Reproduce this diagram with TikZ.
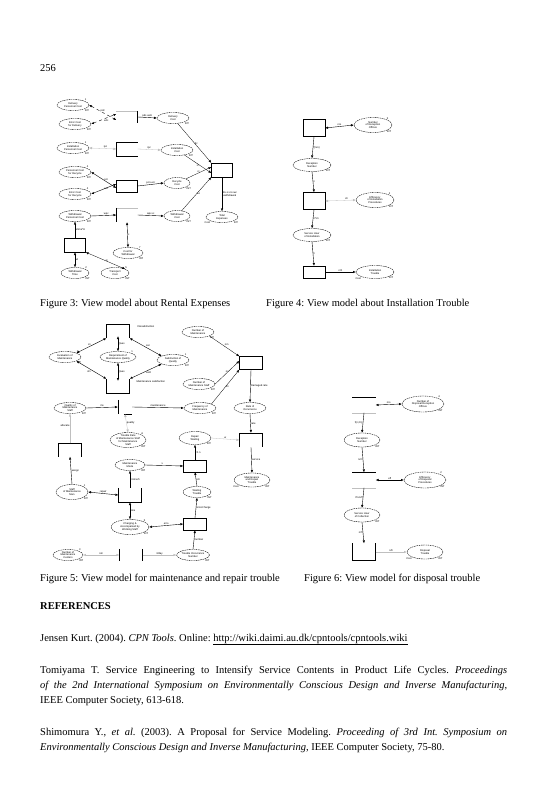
\documentclass[tikz,border=0pt]{standalone}
\usepackage{fontspec}
\setmainfont{Liberation Serif}
\setsansfont{Liberation Sans}
\usetikzlibrary{shapes.geometric,arrows.meta}
\frenchspacing
\newcommand\dfont{\fontsize{2.6}{2.9}\selectfont\sffamily}
\newcommand\bodyfont{\fontsize{10.5}{12}\selectfont}
\newcommand\fullline[1]{\makebox[467pt][s]{#1}}
\begin{document}
\begin{tikzpicture}[x=1pt,y=-1pt,
  >={Latex[length=2.8pt,width=2.4pt]},
  place/.style={ellipse,draw,line width=0.35pt,dash pattern=on 1.6pt off 0.7pt,minimum width=32pt,minimum height=11pt,inner sep=0pt,align=center,font=\dfont},
  bigplace/.style={place,minimum width=38pt,minimum height=15pt},
  trans/.style={rectangle,draw,line width=0.45pt,minimum width=21pt,minimum height=14pt,inner sep=0pt},
  ghost/.style={rectangle,draw=none,minimum width=21pt,minimum height=14pt,inner sep=0pt},
  arc/.style={->,line width=0.4pt},
  darc/.style={<->,line width=0.4pt},
  farc/.style={<->,line width=0.3pt,draw=black!25},
  lab/.style={font=\dfont,inner sep=0.3pt},
  typ/.style={font=\dfont,inner sep=0.2pt,anchor=north west},
  tok/.style={font=\dfont,inner sep=0.2pt,anchor=south west},
  body/.style={font=\bodyfont,anchor=base west,inner sep=0pt},
  captext/.style={font=\bodyfont,anchor=base west,inner sep=0pt}]
\useasboundingbox[fill=white] (0,0) rectangle (546,800);

% page number
\node[body] (pagenum) at (40,71) {256};

% ================= Figure 3 =================
\node[place] (a1) at (73,105) {Delivery\\Personnel Cost};
\node[place] (a2) at (75,124) {Error Cost\\for Delivery};
\node[place] (a3) at (73,148) {Installation\\Personnel Cost};
\node[place] (a4) at (75,172) {Personnel Cost\\for Recycle};
\node[place] (a5) at (75,194) {Error Cost\\for Recycle};
\node[place] (a6) at (75,216) {Withdrawal\\Personnel Cost};
\node[ghost,minimum height=12pt] (at1) at (127,117) {};
\draw[black!25,line width=0.4pt] (at1.north west) -- (at1.north east);
\draw[line width=0.45pt] (at1.north east) -- (at1.south east);
\node[ghost] (at2) at (127,149) {};
\draw[line width=0.45pt] (at2.north east) -- (at2.north west) -- (at2.south west) -- (at2.south east);
\node[trans,minimum height=12pt] (at3) at (127,186) {};
\node[ghost] (at4) at (127,215) {};
\draw[black!25,line width=0.4pt] (at4.north west) -- (at4.north east);
\draw[line width=0.45pt] (at4.north west) -- (at4.south west);
\node[place] (b1) at (173,118) {Delivery\\Cost};
\node[place] (b2) at (177,150) {Installation\\Cost};
\node[place,minimum width=26pt] (b3) at (177,183) {Recycle\\Cost};
\node[place,minimum width=26pt] (b4) at (177,216) {Withdrawal\\Cost};
\node[trans] (aT) at (222,170) {};
\node[place] (b5) at (222,217) {Total\\Expenses};
\node[trans] (at5) at (75,245) {};
\node[place,minimum width=28pt] (c1) at (75,273) {Withdrawal\\Time};
\node[place,minimum width=28pt] (c2) at (115,273) {Transport\\Cost};
\node[place,minimum width=30pt] (c3) at (128,253) {Cost for\\Withdrawal};
% tokens / types
\foreach \n/\t in {a1/1,a3/1,a4/4,a5/4} {\node[tok] at (\n.north east) {\t};}
\foreach \n in {a1,a2,a3,a4,a5,a6,b1,b2,b3,b4,c1,c2,c3} {\node[typ] at (\n.south east) {INT};}
\node[lab,anchor=north east] at (b5.south west) {Cost};
\node[typ] at (b5.south east) {INT};
\node[tok] at (c1.north east) {2};
\node[tok] at (c2.north east) {5};
\node[tok] at (c3.north east) {7};
% arcs
\draw[darc,dashed] (a1.east) -- node[lab,above] {pdc} ([yshift=-3pt]at1.west);
\draw[darc,dashed] (a2.east) -- node[lab,below,yshift=-1pt,pos=0.6] {edc} ([yshift=3pt]at1.west);
\draw[farc] (a3.east) -- node[lab,above,black,pos=0.6] {ipc} (at2.west);
\draw[darc] (a4.east) -- node[lab,above,pos=0.6] {pcr} ([yshift=-2pt]at3.west);
\draw[darc] (a5.east) -- node[lab,below,pos=0.6] {ecr} ([yshift=2pt]at3.west);
\draw[arc] (a6.east) -- node[lab,above,pos=0.6] {wpc} (at4.west);
\draw[arc] (at1.east) -- node[lab,above] {pdc+edc} (b1.west);
\draw[farc,->] (at2.east) -- node[lab,above,black] {ipc} (b2.west);
\draw[arc] (at3.east) -- node[lab,above] {pcr+ecr} (b3.west);
\draw[arc] (at4.east) -- node[lab,above] {wpc+c} (b4.west);
\draw[arc,line width=0.3pt] (b1) -- node[lab,right] {dc} (aT.north west);
\draw[arc,line width=0.3pt] (b2) -- node[lab,below] {ic} ([yshift=-3pt]aT.west);
\draw[arc,line width=0.3pt] (b3) -- node[lab,above] {rc} ([yshift=3pt]aT.west);
\draw[arc,line width=0.3pt] (b4) -- node[lab,right] {wc} (aT.south west);
\draw[arc] (aT.south) -- node[lab,right,align=left] {dc+ic+rc+wc\\+withdrawal} (b5.north);
\draw[darc] (at4.south) -- node[lab,right] {c} (c3.north);
\draw[arc,line width=0.3pt] (at5.north) -- node[lab,right] {wtime*tc} (a6.south);
\draw[darc] (c1.north) -- node[lab,right] {wt} (at5.south);
\draw[darc,line width=0.3pt] (c2.north east) -- node[lab,right] {tc} (at5.south east);
\node[captext] (cap3) at (40,306) {Figure 3: View model about Rental Expenses};

% ================= Figure 4 =================
\node[trans,minimum width=22pt,minimum height=17pt] (d1) at (314,128) {};
\node[bigplace] (e1) at (373,125) {Number\\of Reception\\Offices};
\node[bigplace,minimum height=13pt] (e2) at (312,165) {Reception\\Number};
\node[trans,minimum width=22pt,minimum height=17pt] (d2) at (314,201) {};
\node[bigplace] (e3) at (375,200) {Efficiency\\of Installation\\Procedures};
\node[bigplace,minimum height=13pt] (e4) at (312,235) {Service Hour\\of Installation};
\node[trans,minimum width=22pt,minimum height=12pt] (d3) at (314,272) {};
\node[bigplace,minimum height=13pt] (e5) at (375,272) {Installation\\Trouble};
\node[tok] at (e1.north east) {5};
\node[tok] at (e3.north east) {2};
\foreach \n in {e1,e2,e3,e4,e5} {\node[typ] at (\n.south east) {INT};}
\node[lab,anchor=north east] at (e5.south west) {Cost};
\draw[darc] (d1.east) -- node[lab,above] {nro} (e1.west);
\draw[arc] (d1.south) -- node[lab,right] {f(nro)} (e2.north);
\draw[arc] (e2.south) -- node[lab,right] {n} (d2.north);
\draw[farc] (d2.east) -- node[lab,above,black,pos=0.7] {i/n} (e3.west);
\draw[arc] (d2.south) -- node[lab,right] {n*i/n} (e4.north);
\draw[arc] (e4.south) -- node[lab,right] {h} (d3.north);
\draw[arc] (d3.east) -- node[lab,above] {n/h} (e5.west);
\node[captext] (cap4) at (266,306) {Figure 4: View model about Installation Trouble};

% ================= Figure 5 =================
\node[ghost,minimum width=23pt] (f1) at (118,331) {};
\draw[line width=0.45pt] (f1.south west) -- (f1.north west) -- (f1.north east) -- (f1.south east);
\node[ghost,minimum width=23pt] (f2) at (118,386) {};
\draw[line width=0.45pt] (f2.north west) -- (f2.south west) -- (f2.south east) -- (f2.north east);
\node[place] (g1) at (65,357) {Evaluation of\\Maintenance};
\node[place,minimum width=36pt] (g2) at (118,357) {Requirement of\\Maintenance Quality};
\node[place] (g3) at (173,360) {Satisfaction of\\Quality};
\node[lab,anchor=west] (f1l) at (137,327) {Dissatisfaction};
\node[lab,anchor=west] (f2l) at (136,382) {Maintenance satisfaction};
\node[place] (g4) at (198,332) {Number of\\Maintenance};
\node[trans,minimum width=23pt,minimum height=13pt] (fT) at (251,363) {};
\node[place] (g5) at (199,384) {Number of\\Maintenance Staff};
\node[place] (g6) at (200,408) {Frequency of\\Maintenance};
\node[place] (g7) at (70,408) {Quality of\\Maintenance\\Staff};
\node[ghost,minimum width=14pt,minimum height=14pt] (f3) at (125,407) {};
\draw[line width=0.45pt] (f3.north west) -- (f3.south west);
\draw[line width=0.45pt] ([xshift=6pt]f3.south west) -- (f3.south east);
\node[place] (g8) at (250,408) {Rate of\\Occurrence};
\node[ghost,minimum width=23pt] (f4) at (251,440) {};
\draw[line width=0.45pt] (f4.south west) -- (f4.north west) -- (f4.north east) -- (f4.south east);
\node[place,minimum height=13pt] (g9) at (195,438) {Repair\\Waiting};
\node[place,minimum width=36pt,minimum height=15pt] (g10) at (128,440) {Trouble Rate\\of Maintenance Staff\\for Maintenance\\Staff};
\node[ghost,minimum width=23pt,minimum height=13pt] (f5) at (70,450) {};
\draw[line width=0.45pt] (f5.south west) -- (f5.north west) -- (f5.north east) -- (f5.south east);
\node[place,minimum width=30pt] (g11) at (130,465) {Maintenance\\Mode};
\node[trans,minimum width=23pt,minimum height=12pt] (f6) at (195,466) {};
\node[place,minimum width=36pt,minimum height=14pt] (g12) at (252,480) {Maintenance\\and Repair\\Trouble};
\node[place,minimum width=32pt,minimum height=15pt] (g13) at (72,492) {Staff\\of Maintenance\\Man};
\node[ghost,minimum width=23pt] (f7) at (130,495) {};
\draw[line width=0.45pt] (f7.north west) -- (f7.south west) -- (f7.south east) -- (f7.north east);
\node[place,minimum width=28pt] (g14) at (197,492) {Waiting\\Trouble};
\node[place,minimum width=38pt,minimum height=15pt] (g15) at (130,527) {Charging \&\\Accompanied by\\Working Staff};
\node[trans,minimum width=23pt,minimum height=12pt] (f8) at (195,524) {};
\node[place,minimum width=33pt] (g16) at (193,555) {Trouble Occurrence\\Number};
\node[place,minimum width=30pt] (g17) at (68,555) {Number of\\Maintenance\\Centers};
\node[ghost,minimum width=23pt,minimum height=12pt] (f9) at (131,555) {};
\draw[line width=0.45pt] (f9.north west) -- (f9.south west);
\draw[line width=0.45pt] (f9.north east) -- (f9.south east);
% tokens / types
\foreach \n/\t in {g1/2,g2/1,g3/1,g10/A,g13/1,g15/5,g17/3} {\node[tok] at (\n.north east) {\t};}
\foreach \n in {g1,g3,g4,g5,g6,g7,g9,g10,g11,g13,g14,g15,g16,g17} {\node[typ] at (\n.south east) {INT};}
\node[lab,anchor=north east] at (g12.south west) {Cost};
\node[typ] at (g12.south east) {INT};
% arcs
\draw[darc] (f1.south west) -- node[lab,above left] {s1} (g1.north east);
\draw[darc] ([yshift=2pt]f1.south) -- node[lab,right] {Ques} (g2.north);
\draw[darc] (f1.south east) -- node[lab,above right] {sat} (g3.north west);
\draw[darc] (f2.north west) -- node[lab,below left] {st1} (g1.south east);
\draw[darc] ([yshift=-2pt]f2.north) -- node[lab,right] {Ques} (g2.south);
\draw[darc] (f2.north east) -- node[lab,below right] {sat2} (g3.south west);
\draw[arc,line width=0.3pt] (g4.south east) -- node[lab,above right] {nm} (fT.north west);
\draw[arc,line width=0.3pt] (g5.east) -- node[lab,above] {ns} ([yshift=2pt]fT.west);
\draw[arc,line width=0.3pt] (g6.north east) -- node[lab,right] {fm} (fT.south west);
\draw[arc] (g7.east) -- node[lab,above] {ms} ([yshift=0pt]f3.west);
\draw[arc] (f3.east) -- node[lab,above] {maintenance} (g6.west);
\draw[arc] (fT.south) -- node[lab,right] {Damaged rate} (g8.north);
\draw[arc] (g8.south) -- node[lab,right] {rate} (f4.north);
\draw[farc] (f3.south) -- node[lab,right,black] {quality} (g10.north);
\draw[farc,->] (g9.east) -- node[lab,above,black] {w} (f4.west);
\draw[farc,->] (f5.north) -- node[lab,left,black,pos=0.6] {allocate} (g7.south);
\draw[arc] (g13.north) -- node[lab,right] {assign} (f5.south);
\draw[arc] (f4.south) -- node[lab,right] {service} (g12.north);
\draw[darc] (g13.east) -- node[lab,above] {repair} (f7.west);
\draw[arc] (f7.north) -- node[lab,right] {n.time/h} (g11.south);
\draw[arc] (g11.east) -- node[lab,above,pos=0.45] {x} (f6.west);
\draw[arc] (f6.north) -- node[lab,right] {r.h.n} (g9.south);
\draw[arc] (g14.north) -- node[lab,right] {n/n} (f6.south);
\draw[darc] (f7.south) -- node[lab,right] {time} (g15.north);
\draw[darc] (g15.east) -- node[lab,above] {erro} (f8.west);
\draw[arc] (f8.north) -- node[lab,right] {error/charge} (g14.south);
\draw[arc] (g16.north) -- node[lab,right] {number} (f8.south);
\draw[farc] (g17.east) -- node[lab,above,black] {nm} (f9.west);
\draw[farc,->] (f9.east) -- node[lab,above,black] {3/day} (g16.west);
\node[captext] (cap5) at (40,581) {Figure 5: View model for maintenance and repair trouble};

% ================= Figure 6 =================
\node[ghost,minimum width=23pt,minimum height=15pt] (h1) at (364,405) {};
\draw[line width=0.45pt] (h1.north west) -- (h1.north east);
\draw[black!25,line width=0.4pt] (h1.south west) -- (h1.south east);
\node[bigplace,minimum width=42pt,minimum height=16pt] (k1) at (423,404) {Number of\\Disposal Reception\\Offices};
\node[bigplace,minimum width=36pt,minimum height=14pt] (k2) at (362,440) {Reception\\Number};
\node[ghost,minimum width=23pt,minimum height=15pt] (h2) at (364,480) {};
\draw[line width=0.45pt] (h2.north west) -- (h2.north east);
\draw[black!25,line width=0.4pt] (h2.south west) -- (h2.south east);
\node[bigplace,minimum width=42pt,minimum height=16pt] (k3) at (425,480) {Efficiency\\of Disposal\\Procedures};
\node[bigplace,minimum width=36pt,minimum height=14pt] (k4) at (362,515) {Service Hour\\of Collection};
\node[ghost,minimum width=23pt,minimum height=17pt] (h3) at (364,552) {};
\draw[line width=0.45pt] (h3.north west) -- (h3.south west) -- (h3.south east) -- (h3.north east);
\node[bigplace,minimum width=36pt,minimum height=14pt] (k5) at (425,552) {Disposal\\Trouble};
\node[tok] at (k1.north east) {4};
\node[tok] at (k3.north east) {2};
\foreach \n in {k1,k2,k3,k4,k5} {\node[typ] at (\n.south east) {INT};}
\node[lab,anchor=north east] at (k5.south west) {Cost};
\draw[darc] (h1.east) -- node[lab,above] {nro} (k1.west);
\draw[arc] (h1.south) -- node[lab,left] {f(n,2n)} (k2.north);
\draw[arc] (k2.south) -- node[lab,left] {n/m} (h2.north);
\draw[darc] (h2.east) -- node[lab,above] {eff} (k3.west);
\draw[arc] (h2.south) -- node[lab,left] {n*n/eff} (k4.north);
\draw[arc] (k4.south) -- node[lab,left] {n/h} (h3.north);
\draw[farc,->] (h3.east) -- node[lab,above,black] {n/h} (k5.west);
\node[captext] (cap6) at (304,581) {Figure 6: View model for disposal trouble};

% ================= References =================
\node[body,font=\bodyfont\bfseries] (refs) at (40,609) {REFERENCES};
\node[body] (r1) at (40,641) {Jensen Kurt. (2004). \textit{CPN Tools}. Online: \underline{http://wiki.daimi.au.dk/cpntools/cpntools.wiki}};
\node[body] (r2a) at (40,673) {\fullline{Tomiyama T. Service Engineering to Intensify Service Contents in Product Life Cycles. \textit{Proceedings}}};
\node[body] (r2b) at (40,688) {\fullline{\textit{of the 2nd International Symposium on Environmentally Conscious Design and Inverse Manufacturing},}};
\node[body] (r2c) at (40,703) {IEEE Computer Society, 613-618.};
\node[body] (r3a) at (40,735) {\fullline{Shimomura Y., \textit{et al.} (2003). A Proposal for Service Modeling. \textit{Proceeding of 3rd Int. Symposium on}}};
\node[body] (r3b) at (40,750) {\textit{Environmentally Conscious Design and Inverse Manufacturing}, IEEE Computer Society, 75-80.};
\end{tikzpicture}
\end{document}
